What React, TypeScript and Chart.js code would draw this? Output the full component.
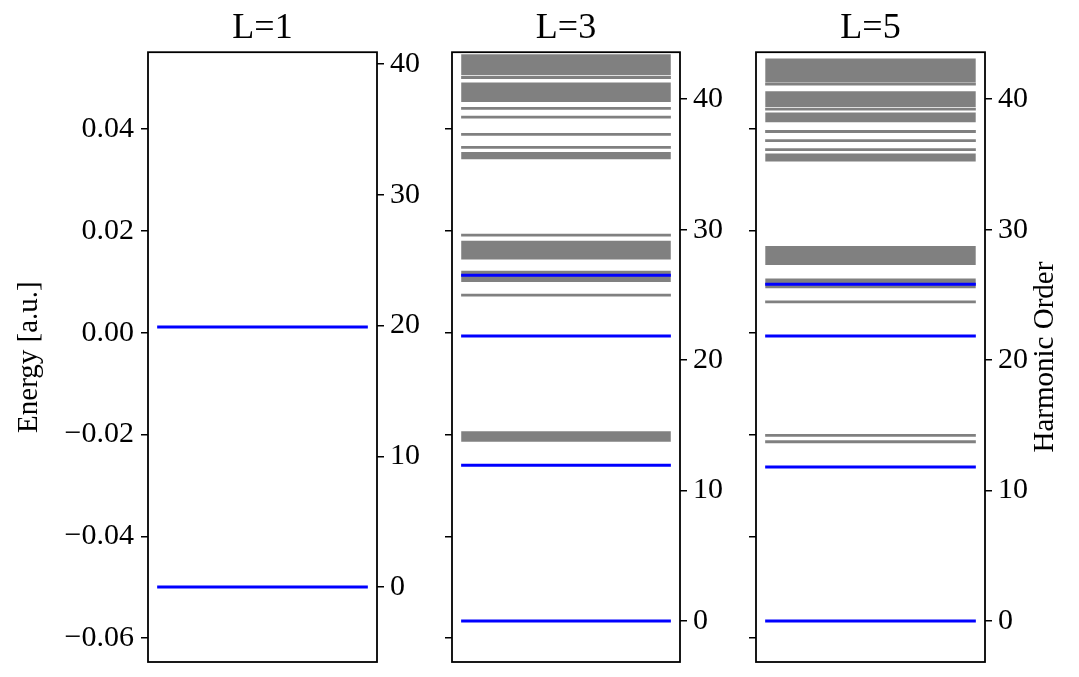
import React, { useEffect, useRef } from 'react';
import { Chart, registerables } from 'chart.js';

Chart.register(...registerables);

// ---------------- data ----------------
const panelTitles = ['L=1', 'L=3', 'L=5'];
const energyAxisTitle = 'Energy [a.u.]';
const harmonicAxisTitle = 'Harmonic Order';

const energyRange = [-0.0647, 0.0551];
const energyStep = 0.02;
const harmonicRanges = [
  [-5.74, 40.92],
  [-3.14, 43.6],
  [-3.14, 43.6],
];
const harmonicStep = 10;
const lineSpan = [0.04, 0.96];

// blue levels (harmonic order units)
const blueL1 = [0, 19.9];
const blueL3 = [0, 11.95, 21.84, 26.5];
const blueL5 = [0, 11.8, 21.84, 25.82];

// gray single levels (harmonic order units)
const grayLinesL1: number[] = [];
const grayLinesL3 = [24.98, 29.58, 36.3, 37.3, 38.62, 39.29, 41.66];
const grayLinesL5 = [13.74, 14.23, 24.47, 36.14, 36.83, 37.52, 39.23, 41.15];

// gray dense bands [low, high] (harmonic order units)
const grayBandsL1: number[][] = [];
const grayBandsL3 = [
  [13.75, 14.54],
  [25.98, 26.84],
  [27.72, 29.14],
  [35.4, 35.96],
  [39.79, 41.28],
  [41.84, 43.44],
];
const grayBandsL5 = [
  [25.5, 26.26],
  [27.28, 28.74],
  [35.23, 35.84],
  [38.24, 38.98],
  [39.4, 40.61],
  [41.28, 43.12],
];

const blueSets = [blueL1, blueL3, blueL5];
const grayLineSets = [grayLinesL1, grayLinesL3, grayLinesL5];
const grayBandSets = [grayBandsL1, grayBandsL3, grayBandsL5];

// ---------------- styling / layout ----------------
const BLUE = '#0000ff';
const GRAY = '#808080';
const FONT = "'Liberation Serif', 'DejaVu Serif', serif";

const panelLayout = [
  { left: 0, width: 425, leftW: 148, rightW: 48, energyLabels: true, harmonicTitle: false },
  { left: 430, width: 300, leftW: 22, rightW: 50, energyLabels: false, harmonicTitle: false },
  { left: 734, width: 345, leftW: 22, rightW: 94, energyLabels: false, harmonicTitle: true },
];
const HEIGHT = 677;

function fmtEnergy(v: number): string {
  if (Math.abs(v) < 1e-9) return '0.00';
  const s = Math.abs(v).toFixed(2);
  return v < 0 ? '\u2212' + s : s;
}

const framePlugin = {
  id: 'frame',
  afterDraw(chart: any) {
    const { ctx, chartArea } = chart;
    ctx.save();
    ctx.strokeStyle = '#000';
    ctx.lineWidth = 1.8;
    ctx.strokeRect(chartArea.left, chartArea.top, chartArea.right - chartArea.left, chartArea.bottom - chartArea.top);
    ctx.restore();
  },
};

function makeRightTitlePlugin(text: string, xOffsetFromRight: number) {
  return {
    id: 'rightTitle',
    afterDraw(chart: any) {
      const { ctx, chartArea, width } = chart;
      ctx.save();
      ctx.fillStyle = '#000';
      ctx.font = `29px ${FONT}`;
      ctx.textAlign = 'center';
      ctx.textBaseline = 'middle';
      ctx.translate(width - xOffsetFromRight, (chartArea.top + chartArea.bottom) / 2);
      ctx.rotate(-Math.PI / 2);
      ctx.fillText(text, 0, 0);
      ctx.restore();
    },
  };
}

function Panel({ index }: { index: number }) {
  const ref = useRef<HTMLCanvasElement | null>(null);
  const lay = panelLayout[index];

  useEffect(() => {
    if (!ref.current) return;
    const datasets: any[] = [];
    blueSets[index].forEach((v) =>
      datasets.push({
        data: [{ x: lineSpan[0], y: v }, { x: lineSpan[1], y: v }],
        borderColor: BLUE,
        borderWidth: 3,
        borderCapStyle: 'butt',
        pointRadius: 0,
        fill: false,
        yAxisID: 'y2',
        order: 0,
      })
    );
    grayLineSets[index].forEach((v) =>
      datasets.push({
        data: [{ x: lineSpan[0], y: v }, { x: lineSpan[1], y: v }],
        borderColor: GRAY,
        borderWidth: 2.8,
        borderCapStyle: 'butt',
        pointRadius: 0,
        fill: false,
        yAxisID: 'y2',
        order: 1,
      })
    );
    grayBandSets[index].forEach(([lo, hi]) =>
      datasets.push({
        data: [{ x: lineSpan[0], y: lo }, { x: lineSpan[1], y: lo }],
        borderColor: 'rgba(0,0,0,0)',
        borderWidth: 1,
        backgroundColor: GRAY,
        pointRadius: 0,
        fill: { value: hi },
        yAxisID: 'y2',
        order: 2,
      })
    );

    const plugins: any[] = [framePlugin];
    if (lay.harmonicTitle) plugins.push(makeRightTitlePlugin(harmonicAxisTitle, 34));

    const fixV = (w: number) => (s: any) => {
      s.width = w;
      s.paddingTop = 0;
      s.paddingBottom = 0;
    };

    const chart = new Chart(ref.current, {
      type: 'line',
      data: { datasets },
      plugins,
      options: {
        animation: false,
        responsive: false,
        maintainAspectRatio: false,
        devicePixelRatio: 1,
        layout: { padding: { left: 0, right: 0, top: 0, bottom: 15 } },
        plugins: {
          legend: { display: false },
          tooltip: { enabled: false },
          title: {
            display: true,
            text: panelTitles[index],
            fullSize: false,
            color: '#000',
            font: { size: 36, family: FONT, weight: 'normal' },
            padding: { top: 7, bottom: 2 },
          },
        },
        scales: {
          x: { type: 'linear', min: 0, max: 1, display: false },
          y: {
            type: 'linear',
            position: 'left',
            min: energyRange[0],
            max: energyRange[1],
            afterFit: fixV(lay.leftW),
            border: { display: false },
            grid: { display: true, drawOnChartArea: false, drawTicks: true, tickLength: 7, color: '#000', lineWidth: 1.5 },
            ticks: {
              stepSize: energyStep,
              includeBounds: false,
              color: '#000',
              padding: 7,
              font: { size: 30, family: FONT },
              callback: (v: any) => (lay.energyLabels ? fmtEnergy(Number(v)) : ''),
            },
            title: {
              display: lay.energyLabels,
              text: energyAxisTitle,
              color: '#000',
              font: { size: 29, family: FONT },
              padding: { top: 12, bottom: 0 },
            },
          },
          y2: {
            type: 'linear',
            position: 'right',
            min: harmonicRanges[index][0],
            max: harmonicRanges[index][1],
            afterFit: fixV(lay.rightW),
            border: { display: false },
            grid: { display: true, drawOnChartArea: false, drawTicks: true, tickLength: 7, color: '#000', lineWidth: 1.5 },
            ticks: {
              stepSize: harmonicStep,
              includeBounds: false,
              color: '#000',
              padding: 6,
              font: { size: 30, family: FONT },
            },
          },
        },
      } as any,
    });
    return () => chart.destroy();
  }, [index]);

  return (
    <canvas
      ref={ref}
      width={lay.width}
      height={HEIGHT}
      style={{ position: 'absolute', left: lay.left, top: 0, width: lay.width, height: HEIGHT }}
    />
  );
}

export default function App() {
  return (
    <div style={{ position: 'absolute', left: 0, top: 0, width: 1079, height: HEIGHT, background: '#fff' }}>
      {panelTitles.map((_, i) => (
        <Panel key={i} index={i} />
      ))}
    </div>
  );
}
